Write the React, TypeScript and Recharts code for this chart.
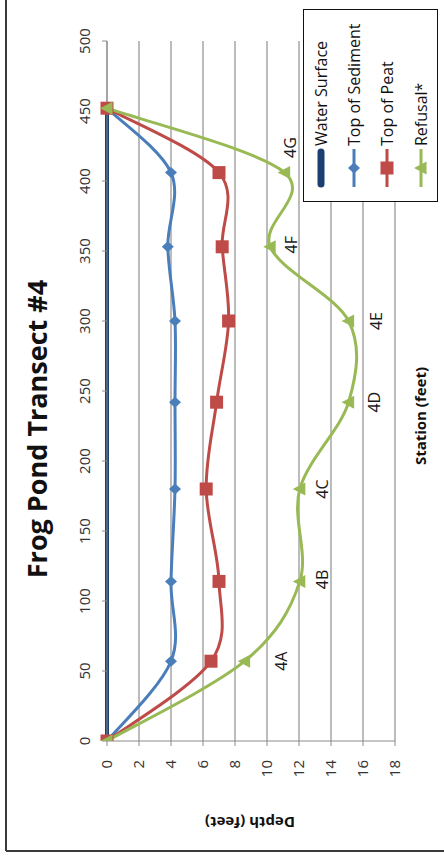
import { LineChart, Line, XAxis, YAxis, CartesianGrid, Legend, LabelList } from 'recharts';

// Probe stations along transect #4 (feet from shore)
const stations = [0, 57, 114, 180, 242, 300, 353, 406, 452];
// Depths below water surface (feet)
const sediment = [0, 4.0, 4.0, 4.25, 4.25, 4.25, 3.8, 4.0, 0];
const peat = [0, 6.5, 7.0, 6.2, 6.85, 7.6, 7.2, 7.0, 0];
const refusal = [0, 8.6, 12.05, 12.05, 15.1, 15.1, 10.2, 11.1, 0];
const refusalTags = ['', '4A', '4B', '4C', '4D', '4E', '4F', '4G', ''];

const waterStations = [0, 452];
const waterDepth = [0, 0];

const stationTicks = [0, 50, 100, 150, 200, 250, 300, 350, 400, 450, 500];
const depthTicks = [0, 2, 4, 6, 8, 10, 12, 14, 16, 18];

const rows = stations.map((s, i) => ({
  station: s,
  sediment: sediment[i],
  peat: peat[i],
  refusal: refusal[i],
  tag: refusalTags[i],
}));
const waterRows = waterStations.map((s, i) => ({ station: s, water: waterDepth[i] }));

const NAVY = '#1B3F70';
const BLUE = '#4A7EBB';
const RED = '#BE4B48';
const GREEN = '#98B954';
const FONT = '"Open Sans", "DejaVu Sans", sans-serif';

// label nudges (landscape px) for the refusal probe tags
const tagNudge: Record<string, [number, number]> = {
  '4A': [0, 36], '4B': [2, 22], '4C': [0, 22], '4D': [0, 25],
  '4E': [0, 27], '4F': [2, 21], '4G': [25, 5],
};

// Excel-style smoothed line (Catmull-Rom as cubic beziers)
const smooth = (context: any) => {
  let pts: number[][] = [];
  return {
    areaStart() {},
    areaEnd() {},
    lineStart() { pts = []; },
    point(x: number, y: number) { pts.push([+x, +y]); },
    lineEnd() {
      if (!pts.length) return;
      context.moveTo(pts[0][0], pts[0][1]);
      const n = pts.length;
      for (let i = 0; i < n - 1; i++) {
        const p0 = pts[Math.max(i - 1, 0)];
        const p1 = pts[i];
        const p2 = pts[i + 1];
        const p3 = pts[Math.min(i + 2, n - 1)];
        context.bezierCurveTo(
          p1[0] + (p2[0] - p0[0]) / 6, p1[1] + (p2[1] - p0[1]) / 6,
          p2[0] - (p3[0] - p1[0]) / 6, p2[1] - (p3[1] - p1[1]) / 6,
          p2[0], p2[1],
        );
      }
    },
  };
};

function Marker({ kind, cx, cy, color }: { kind: string; cx: number; cy: number; color: string }) {
  if (kind === 'diamond') {
    return <polygon points={`${cx},${cy - 6} ${cx + 5.5},${cy} ${cx},${cy + 6} ${cx - 5.5},${cy}`} fill={color} />;
  }
  if (kind === 'square') {
    return <rect x={cx - 6.5} y={cy - 6.5} width={13} height={13} fill={color} />;
  }
  if (kind === 'triangle') {
    return <polygon points={`${cx},${cy - 7} ${cx + 6.5},${cy + 5.5} ${cx - 6.5},${cy + 5.5}`} fill={color} />;
  }
  return null;
}

const dotOf = (kind: string, color: string) => (p: any) => (
  <Marker key={`${kind}-${p.index}`} kind={kind} cx={p.cx} cy={p.cy} color={color} />
);

const seriesKind: Record<string, string> = {
  water: 'water', sediment: 'diamond', peat: 'square', refusal: 'triangle',
};
const legendOrder = ['water', 'sediment', 'peat', 'refusal'];

function TagLabel(props: any) {
  const { x, y, value } = props;
  if (!value) return null;
  const [dx, dy] = tagNudge[value] || [0, 24];
  return (
    <text x={x + dx} y={y + dy} textAnchor="middle" dominantBaseline="central"
      fontSize={16} fontFamily={FONT} fill="#1a1a1a">
      {value}
    </text>
  );
}

function LegendBox({ payload }: any) {
  const items = [...(payload || [])].sort(
    (a: any, b: any) => legendOrder.indexOf(a.dataKey) - legendOrder.indexOf(b.dataKey),
  );
  return (
    <div style={{
      width: 193, height: 135, boxSizing: 'border-box', border: '1px solid #111',
      background: '#fff', fontFamily: FONT, fontSize: 16, color: '#111',
    }}>
      {items.map((e: any) => {
        const kind = seriesKind[e.dataKey];
        return (
          <div key={e.dataKey} style={{ height: 33.3, display: 'flex', alignItems: 'center' }}>
            <svg width={42} height={16} style={{ marginLeft: 12, marginRight: 1 }}>
              {kind === 'water' ? (
                <line x1={5} y1={8} x2={37} y2={8} stroke={e.color} strokeWidth={7} strokeLinecap="round" />
              ) : (
                <>
                  <line x1={2} y1={8} x2={40} y2={8} stroke={e.color} strokeWidth={3} />
                  <Marker kind={kind} cx={21} cy={8} color={e.color} />
                </>
              )}
            </svg>
            <span style={{ whiteSpace: 'nowrap' }}>{e.value}</span>
          </div>
        );
      })}
    </div>
  );
}

const tickStyle = { fontSize: 15, fontFamily: FONT, fill: '#333' };

export default function App() {
  return (
    <div style={{
      position: 'absolute', left: 0, top: 0, width: 444, height: 859,
      overflow: 'hidden', background: '#fff',
    }}>
      <div style={{
        position: 'absolute', left: 0, top: 0, width: 859, height: 444,
        transformOrigin: '0 0', transform: 'translateY(859px) rotate(-90deg)',
      }}>
        <LineChart width={859} height={444} data={rows}
          margin={{ top: 77, right: 41, bottom: 49, left: 78 }}>
          <CartesianGrid vertical={false} stroke="#A0A0A0" strokeWidth={1.4} />
          <XAxis dataKey="station" type="number" orientation="top" domain={[0, 500]}
            ticks={stationTicks} height={30} tickSize={5} tickMargin={12}
            stroke="#8C8C8C" tick={tickStyle} allowDataOverflow />
          <YAxis type="number" domain={[0, 18]} reversed ticks={depthTicks} width={40}
            tickSize={5} tickMargin={14} stroke="#8C8C8C" tick={tickStyle} />
          <Line data={waterRows} dataKey="water" name="Water Surface" type="linear"
            stroke={NAVY} strokeWidth={4} dot={false} activeDot={false} isAnimationActive={false} />
          <Line dataKey="sediment" name="Top of Sediment" type={smooth as any}
            stroke={BLUE} strokeWidth={3} dot={dotOf('diamond', BLUE)} activeDot={false}
            isAnimationActive={false} />
          <Line dataKey="peat" name="Top of Peat" type={smooth as any}
            stroke={RED} strokeWidth={3} dot={dotOf('square', RED)} activeDot={false}
            isAnimationActive={false} />
          <Line dataKey="refusal" name="Refusal*" type={smooth as any}
            stroke={GREEN} strokeWidth={3} dot={dotOf('triangle', GREEN)} activeDot={false}
            isAnimationActive={false}>
            <LabelList dataKey="tag" content={<TagLabel />} />
          </Line>
          <Legend layout="horizontal" verticalAlign="middle" align="center"
            wrapperStyle={{ left: 657, top: 303, width: 193, height: 135 }}
            content={<LegendBox />} />
        </LineChart>
        <svg width={859} height={444}
          style={{ position: 'absolute', left: 0, top: 0, pointerEvents: 'none' }}>
          <line x1={8} y1={6} x2={859} y2={6} stroke="#3A3A3A" strokeWidth={2} />
          <line x1={8} y1={6} x2={8} y2={444} stroke="#3A3A3A" strokeWidth={2} />
          <text x={430} y={47} textAnchor="middle"
            fontSize={27} fontWeight="bold" fontFamily={FONT} fill="#111">
            Frog Pond Transect #4
          </text>
          <text x={443} y={420} textAnchor="middle" dominantBaseline="central"
            fontSize={15} fontWeight="bold" fontFamily={FONT} fill="#111">
            Station (feet)
          </text>
          <text x={36} y={250} textAnchor="middle" dominantBaseline="central"
            transform="rotate(-90 36 250)"
            fontSize={15} fontWeight="bold" fontFamily={FONT} fill="#111">
            Depth (feet)
          </text>
        </svg>
      </div>
    </div>
  );
}
